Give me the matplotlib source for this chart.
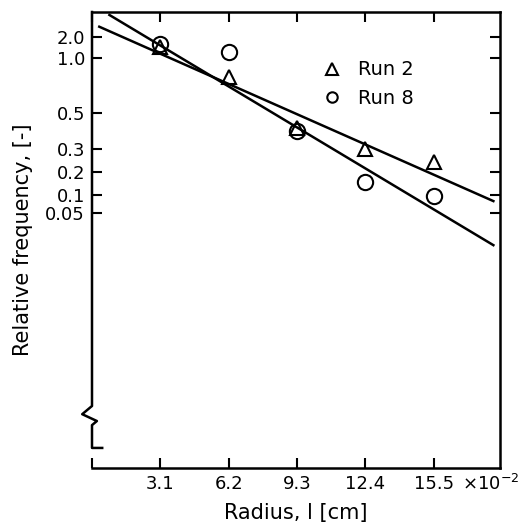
import numpy as np
import matplotlib
matplotlib.use('Agg')
import matplotlib.pyplot as plt
from matplotlib.lines import Line2D

# radius (x 10^-2 cm) and relative frequency
radius = [3.1, 6.2, 9.3, 12.4, 15.5]
run2 = [1.43, 0.785, 0.404, 0.30, 0.237]
run8 = [1.58, 1.20, 0.387, 0.147, 0.095]

# fitted straight lines, end points
fit2_x = [0.33, 18.2]
fit_run2 = [2.83, 0.078]
fit8_x = [0.79, 18.2]
fit_run8 = [4.21, 0.014]

xticks = [0, 3.1, 6.2, 9.3, 12.4, 15.5]
xticklabels = ['', '3.1', '6.2', '9.3', '12.4', '15.5']
yticks = [0.05, 0.1, 0.2, 0.3, 0.5, 1.0, 2.0]
yticklabels = ['0.05', '0.1', '0.2', '0.3', '0.5', '1.0', '2.0']

# the printed y axis is neither linear nor log: height (axes fraction)
# of each printed tick, used to build the scale
ytick_height = [0.5603, 0.5993, 0.6502, 0.6985, 0.7796, 0.9002, 0.9452]


def _pw(x, xp, fp):
    # piecewise linear with linear extrapolation at both ends
    x = np.asarray(x, dtype=float)
    xp = np.asarray(xp, dtype=float)
    fp = np.asarray(fp, dtype=float)
    y = np.interp(x, xp, fp)
    lo = fp[0] + (x - xp[0]) * (fp[1] - fp[0]) / (xp[1] - xp[0])
    hi = fp[-1] + (x - xp[-1]) * (fp[-1] - fp[-2]) / (xp[-1] - xp[-2])
    y = np.where(x < xp[0], lo, y)
    y = np.where(x > xp[-1], hi, y)
    return y


_logt = np.log10(yticks)


def forward(v):
    v = np.clip(np.asarray(v, dtype=float), 1e-30, None)
    return _pw(np.log10(v), _logt, ytick_height)


def inverse(u):
    return 10 ** _pw(u, ytick_height, _logt)


def plot(out='out.png'):
    fig = plt.figure(figsize=(5.24, 5.26), dpi=100)
    ax = fig.add_axes([92 / 524., 1 - 468 / 526., 408 / 524., 456 / 526.])

    ax.set_yscale('function', functions=(forward, inverse))
    ax.set_ylim(inverse(0.0), inverse(1.0))
    ax.set_xlim(0, 18.5)

    ax.plot(fit2_x, fit_run2, '-', color='k', lw=1.8)
    ax.plot(fit8_x, fit_run8, '-', color='k', lw=1.8)
    ax.plot(radius, run2, '^', ms=10.5, mfc='none', mec='k', mew=1.5)
    ax.plot(radius, run8, 'o', ms=11, mfc='none', mec='k', mew=1.5)

    ax.set_xticks(xticks)
    ax.set_xticklabels(xticklabels)
    ax.set_yticks(yticks)
    ax.set_yticklabels(yticklabels)
    ax.yaxis.set_minor_locator(plt.NullLocator())
    ax.xaxis.set_minor_locator(plt.NullLocator())
    ax.tick_params(direction='in', length=7, width=1.5, top=True, right=True,
                   labelsize=13, pad=5)

    for side in ('top', 'right', 'bottom'):
        ax.spines[side].set_linewidth(1.8)
    ax.spines['left'].set_visible(False)

    # broken left axis drawn by hand
    ax.plot([0, 0, -0.024, 0.012, 0, 0, 0.025],
            [1, 0.136, 0.118, 0.103, 0.094, 0.044, 0.044],
            transform=ax.transAxes, clip_on=False, color='k', lw=1.8)

    ax.set_xlabel('Radius, l [cm]', fontsize=15, labelpad=7)
    ax.set_ylabel('Relative frequency, [-]', fontsize=15, labelpad=9)
    ax.text(0.907, -0.048, r'$\times10^{-2}$', transform=ax.transAxes,
            fontsize=13, va='baseline', ha='left')

    handles = [Line2D([], [], ls='none', marker='^', ms=8, mfc='none',
                      mec='k', mew=1.5),
               Line2D([], [], ls='none', marker='o', ms=7.5, mfc='none',
                      mec='k', mew=1.5)]
    ax.legend(handles, ['Run 2', 'Run 8'], loc='upper left',
              bbox_to_anchor=(0.564, 0.894), frameon=False, fontsize=14,
              handlelength=1.0, handletextpad=0.84, labelspacing=0.5,
              borderpad=0, borderaxespad=0)

    fig.savefig(out, dpi=100)


if __name__ == '__main__':
    plot()
